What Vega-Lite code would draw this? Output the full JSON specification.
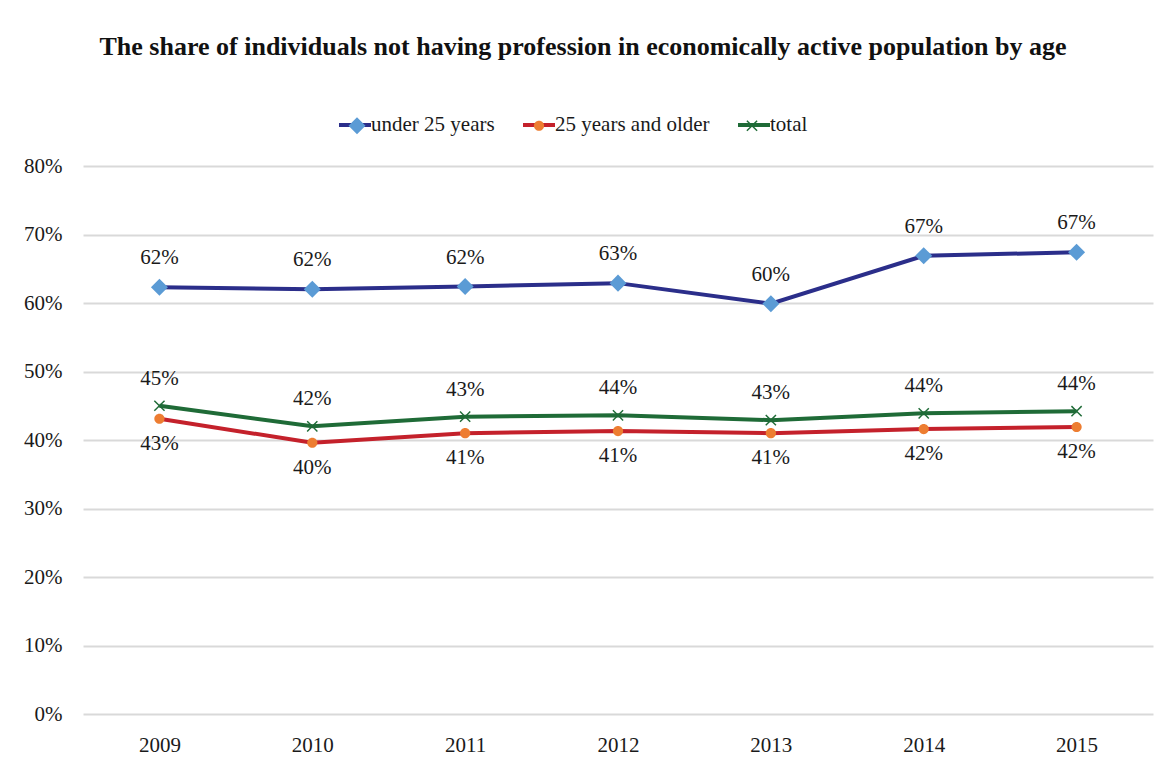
{
  "$schema": "https://vega.github.io/schema/vega-lite/v6.json",
  "autosize": "none",
  "width": 1070,
  "height": 548,
  "padding": {"left": 83, "top": 166, "right": 4, "bottom": 46},
  "background": "white",
  "title": {
    "text": "The share of individuals not having profession in economically active population by age",
    "font": "Liberation Serif",
    "fontSize": 26,
    "fontWeight": "bold",
    "color": "#111111",
    "anchor": "middle",
    "dx": -35,
    "offset": 47
  },
  "config": {
    "view": {"stroke": null},
    "font": "Liberation Serif"
  },
  "data": {
    "values": [
      {"year": "2009", "series": "under 25 years", "value": 0.623},
      {"year": "2010", "series": "under 25 years", "value": 0.620},
      {"year": "2011", "series": "under 25 years", "value": 0.624},
      {"year": "2012", "series": "under 25 years", "value": 0.629},
      {"year": "2013", "series": "under 25 years", "value": 0.599},
      {"year": "2014", "series": "under 25 years", "value": 0.669},
      {"year": "2015", "series": "under 25 years", "value": 0.674},
      {"year": "2009", "series": "25 years and older", "value": 0.431},
      {"year": "2010", "series": "25 years and older", "value": 0.396},
      {"year": "2011", "series": "25 years and older", "value": 0.410},
      {"year": "2012", "series": "25 years and older", "value": 0.413},
      {"year": "2013", "series": "25 years and older", "value": 0.410},
      {"year": "2014", "series": "25 years and older", "value": 0.416},
      {"year": "2015", "series": "25 years and older", "value": 0.419},
      {"year": "2009", "series": "total", "value": 0.450},
      {"year": "2010", "series": "total", "value": 0.420},
      {"year": "2011", "series": "total", "value": 0.434},
      {"year": "2012", "series": "total", "value": 0.436},
      {"year": "2013", "series": "total", "value": 0.429},
      {"year": "2014", "series": "total", "value": 0.439},
      {"year": "2015", "series": "total", "value": 0.442}
    ]
  },
  "encoding": {
    "x": {
      "field": "year",
      "type": "ordinal",
      "scale": {"type": "point", "padding": 0.5},
      "axis": {
        "title": null,
        "labelAngle": 0,
        "domain": false,
        "ticks": false,
        "grid": false,
        "labelFont": "Liberation Serif",
        "labelFontSize": 21,
        "labelColor": "#1a1a1a",
        "labelPadding": 20
      }
    },
    "y": {
      "field": "value",
      "type": "quantitative",
      "scale": {"domain": [0, 0.8], "nice": false},
      "axis": {
        "title": null,
        "format": ".0%",
        "values": [0, 0.1, 0.2, 0.3, 0.4, 0.5, 0.6, 0.7, 0.8],
        "domain": false,
        "ticks": false,
        "grid": true,
        "gridColor": "#d9d9d9",
        "gridWidth": 2,
        "labelFont": "Liberation Serif",
        "labelFontSize": 21,
        "labelColor": "#1a1a1a",
        "labelPadding": 21
      }
    }
  },
  "layer": [
    {
      "mark": {"type": "line", "strokeWidth": 4},
      "encoding": {
        "stroke": {
          "field": "series",
          "type": "nominal",
          "sort": ["under 25 years", "25 years and older", "total"],
          "scale": {"range": ["#2b2e8a", "#c4212b", "#1f6b37"]},
          "legend": {
            "orient": "none",
            "direction": "horizontal",
            "legendX": 254,
            "legendY": -59,
            "title": null,
            "symbolType": "stroke",
            "symbolSize": 1024,
            "symbolStrokeWidth": 4,
            "labelFont": "Liberation Serif",
            "labelFontSize": 21,
            "labelColor": "#1a1a1a",
            "labelOffset": -2,
            "columnPadding": 20,
            "padding": 0,
            "zindex": 1
          }
        }
      }
    },
    {
      "mark": {"type": "point", "filled": true, "opacity": 1, "strokeWidth": 0, "size": 290},
      "encoding": {
        "fill": {
          "field": "series",
          "type": "nominal",
          "scale": {
            "domain": ["under 25 years", "25 years and older", "total"],
            "range": ["#5b9bd5", "#ed7d31", "#1f6b37"]
          },
          "legend": {
            "orient": "none",
            "direction": "horizontal",
            "legendX": 263.5,
            "legendY": -51,
            "title": null,
            "symbolSize": 290,
            "symbolStrokeWidth": 0,
            "labelFont": "Liberation Serif",
            "labelFontSize": 21,
            "labelColor": "transparent",
            "labelOffset": 17,
            "columnPadding": 20,
            "padding": 0,
            "zindex": 2
          }
        },
        "shape": {
          "field": "series",
          "type": "nominal",
          "scale": {
            "domain": ["under 25 years", "25 years and older", "total"],
            "range": [
              "diamond",
              "M0.6,0A0.6,0.6 0 1,1 -0.6,0A0.6,0.6 0 1,1 0.6,0Z",
              "M-0.66,-0.54L-0.54,-0.66L0,-0.12L0.54,-0.66L0.66,-0.54L0.12,0L0.66,0.54L0.54,0.66L0,0.12L-0.54,0.66L-0.66,0.54L-0.12,0Z"
            ]
          },
          "legend": {
            "orient": "none",
            "direction": "horizontal",
            "legendX": 263.5,
            "legendY": -51,
            "title": null,
            "symbolSize": 290,
            "symbolStrokeWidth": 0,
            "labelFont": "Liberation Serif",
            "labelFontSize": 21,
            "labelColor": "transparent",
            "labelOffset": 17,
            "columnPadding": 20,
            "padding": 0,
            "zindex": 2
          }
        }
      }
    },
    {
      "transform": [{"filter": "datum.series === 'under 25 years'"}],
      "mark": {"type": "text", "dy": -29, "font": "Liberation Serif", "fontSize": 21, "color": "#1a1a1a"},
      "encoding": {"text": {"field": "value", "type": "quantitative", "format": ".0%"}}
    },
    {
      "transform": [{"filter": "datum.series === 'total'"}],
      "mark": {"type": "text", "dy": -27, "font": "Liberation Serif", "fontSize": 21, "color": "#1a1a1a"},
      "encoding": {"text": {"field": "value", "type": "quantitative", "format": ".0%"}}
    },
    {
      "transform": [{"filter": "datum.series === '25 years and older'"}],
      "mark": {"type": "text", "dy": 25, "font": "Liberation Serif", "fontSize": 21, "color": "#1a1a1a"},
      "encoding": {"text": {"field": "value", "type": "quantitative", "format": ".0%"}}
    }
  ]
}
